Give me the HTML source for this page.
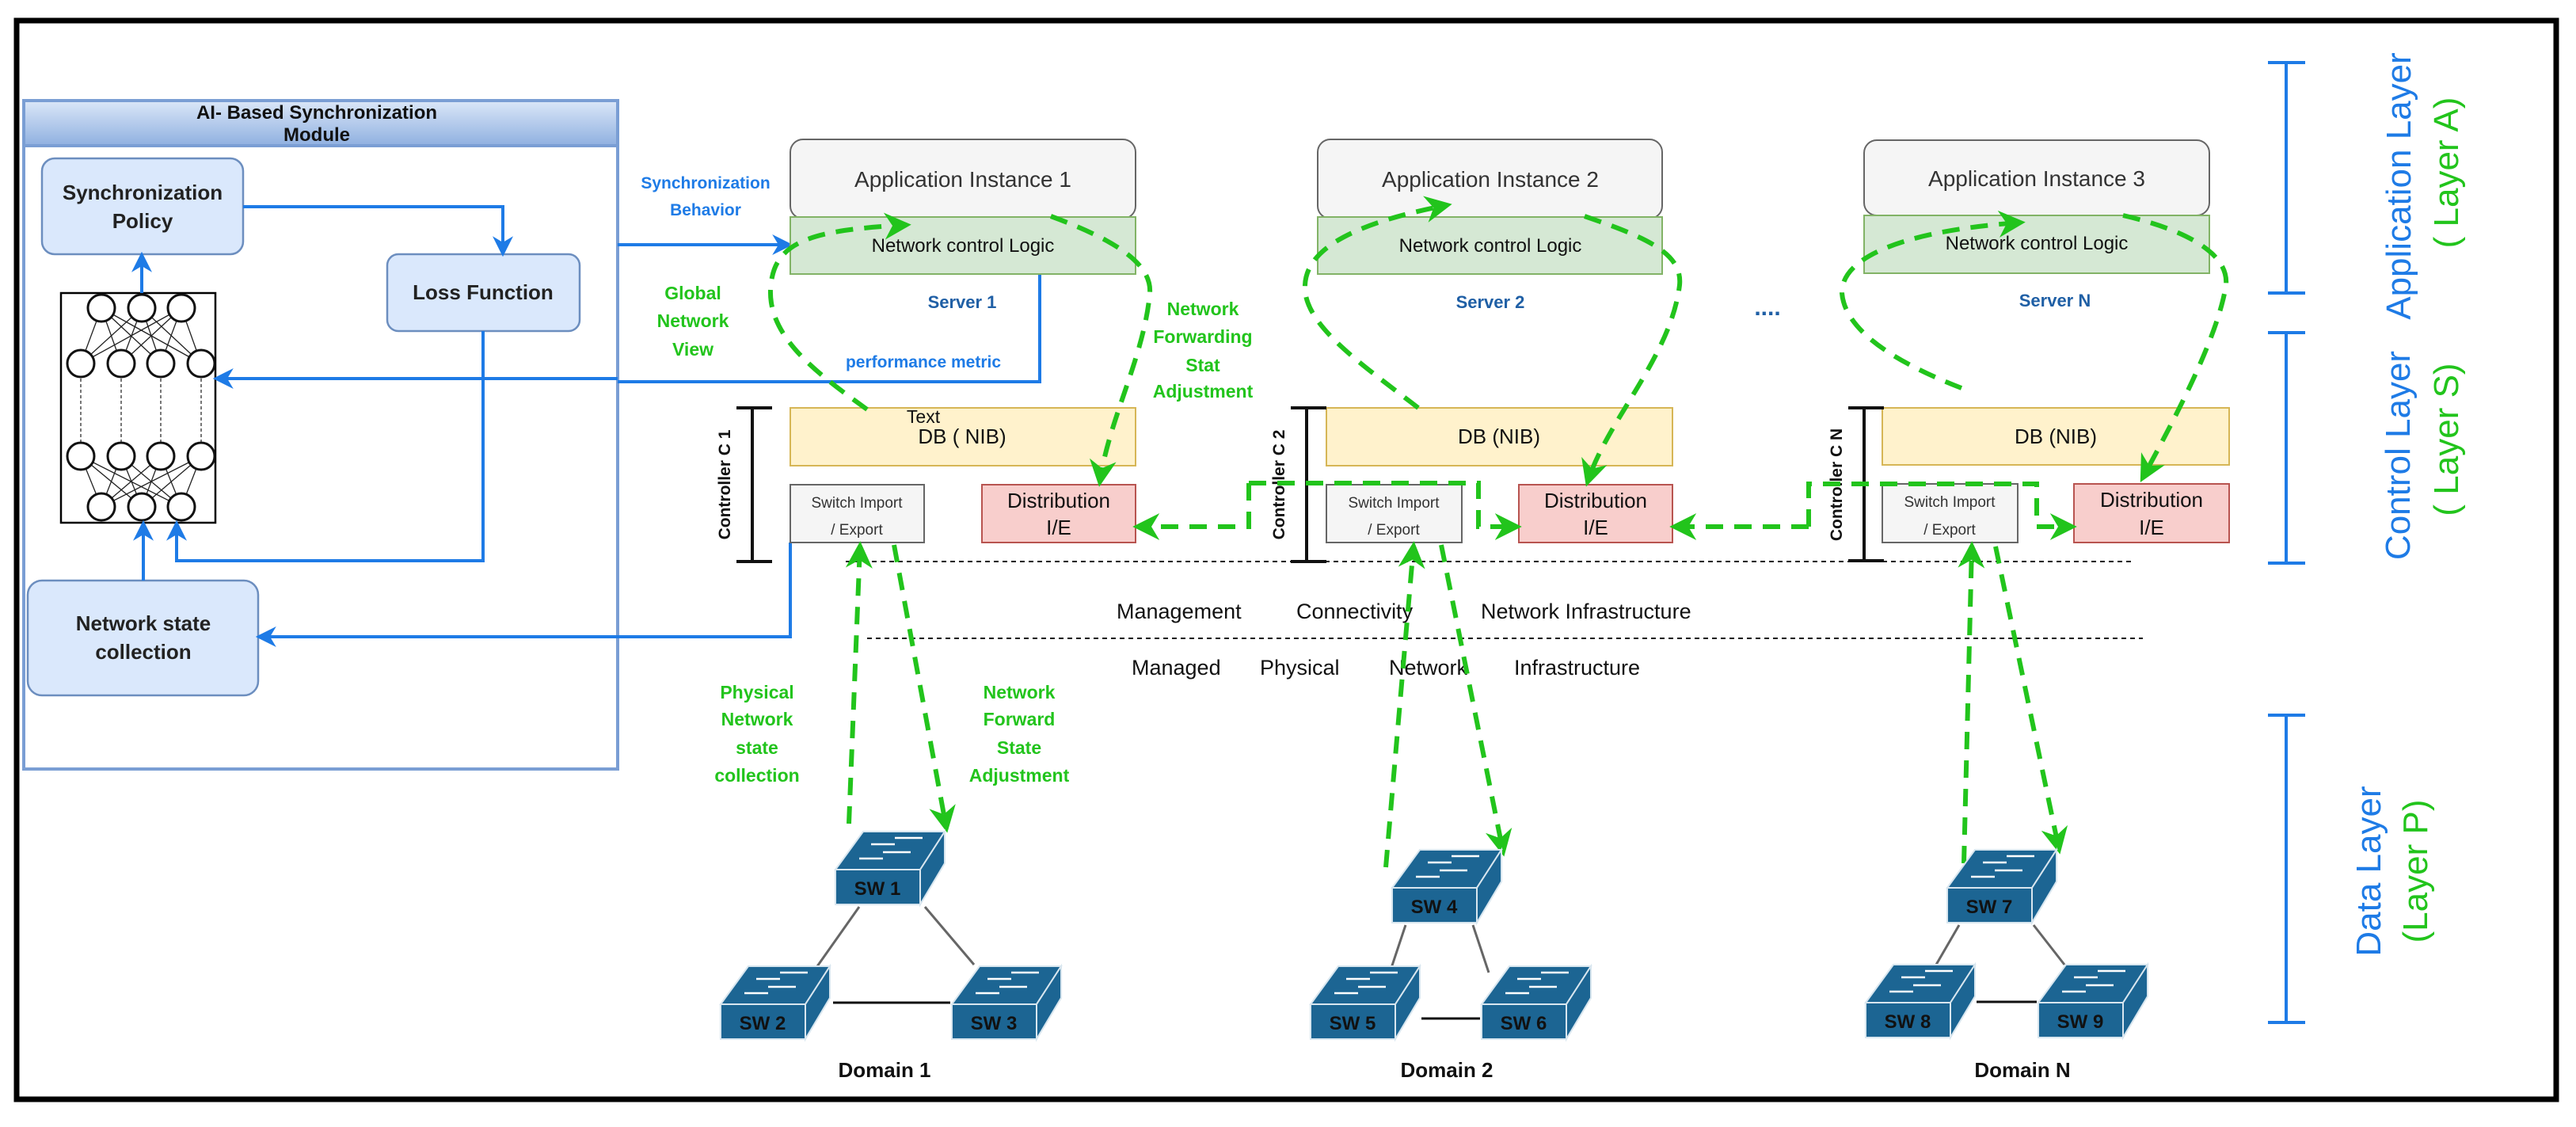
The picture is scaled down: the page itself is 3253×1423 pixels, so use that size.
<!DOCTYPE html>
<html><head><meta charset="utf-8"><style>
html,body{margin:0;padding:0;background:#fff;}
svg{display:block;}
text{font-family:"Liberation Sans",sans-serif;}
</style></head><body>
<svg width="3253" height="1423" viewBox="0 0 3253 1423" xmlns="http://www.w3.org/2000/svg">
<defs>
<marker id="g" viewBox="0 0 10 10" refX="8" refY="5" markerWidth="34" markerHeight="34" markerUnits="userSpaceOnUse" orient="auto"><path d="M0,0 L10,5 L0,10 L3,5 z" fill="#22c41c"/></marker>
<marker id="b" viewBox="0 0 10 10" refX="8" refY="5" markerWidth="26" markerHeight="26" markerUnits="userSpaceOnUse" orient="auto"><path d="M0,0 L10,5 L0,10 L3,5 z" fill="#1e7be6"/></marker>
<g id="sw">
<polygon points="0,0 35,-48 138,-48 107,0" fill="#1c6593" stroke="#d8e6ef" stroke-width="2"/>
<polygon points="107,0 138,-48 138,-8 107,44" fill="#1c6593" stroke="#d8e6ef" stroke-width="2"/>
<rect x="0" y="0" width="107" height="44" fill="#1c6593" stroke="#d8e6ef" stroke-width="2"/>
<g stroke="#fff" stroke-width="2.5" fill="none">
<line x1="75" y1="-40" x2="110" y2="-40"/><line x1="45" y1="-32" x2="75" y2="-32"/>
<line x1="60" y1="-22" x2="95" y2="-22"/><line x1="30" y1="-14" x2="60" y2="-14"/>
</g>
</g>
<linearGradient id="hg" x1="0" y1="0" x2="0" y2="1"><stop offset="0" stop-color="#dbe7f8"/><stop offset="1" stop-color="#8fb0e0"/></linearGradient>
</defs>

<rect x="21" y="26" width="3207" height="1362" fill="none" stroke="#000" stroke-width="7"/>

<rect x="30" y="127" width="750" height="844" fill="#fff" stroke="#7a9ed4" stroke-width="4"/>
<rect x="30" y="127" width="750" height="57" fill="url(#hg)" stroke="#7a9ed4" stroke-width="4"/>
<text x="400" y="150" font-size="24" font-weight="bold" text-anchor="middle" fill="#111">AI- Based  Synchronization</text>
<text x="400" y="178" font-size="24" font-weight="bold" text-anchor="middle" fill="#111">Module</text>

<rect x="53" y="200" width="254" height="121" rx="16" fill="#dae8fc" stroke="#6c8ebf" stroke-width="2.5"/>
<text x="180" y="252" font-size="26" font-weight="bold" text-anchor="middle" fill="#222">Synchronization</text>
<text x="180" y="288" font-size="26" font-weight="bold" text-anchor="middle" fill="#222">Policy</text>
<rect x="489" y="321" width="243" height="97" rx="14" fill="#dae8fc" stroke="#6c8ebf" stroke-width="2.5"/>
<text x="610" y="378" font-size="26" font-weight="bold" text-anchor="middle" fill="#222">Loss Function</text>
<rect x="35" y="733" width="291" height="145" rx="18" fill="#dae8fc" stroke="#6c8ebf" stroke-width="2.5"/>
<text x="181" y="796" font-size="26" font-weight="bold" text-anchor="middle" fill="#222">Network state</text>
<text x="181" y="832" font-size="26" font-weight="bold" text-anchor="middle" fill="#222">collection</text>

<rect x="77" y="370" width="195" height="290" fill="#fff" stroke="#000" stroke-width="2.5"/>
<g stroke="#222" stroke-width="1.3">
<line x1="128" y1="389" x2="102" y2="459"/><line x1="128" y1="389" x2="153" y2="459"/><line x1="128" y1="389" x2="203" y2="459"/><line x1="128" y1="389" x2="254" y2="459"/>
<line x1="179" y1="389" x2="102" y2="459"/><line x1="179" y1="389" x2="153" y2="459"/><line x1="179" y1="389" x2="203" y2="459"/><line x1="179" y1="389" x2="254" y2="459"/>
<line x1="229" y1="389" x2="102" y2="459"/><line x1="229" y1="389" x2="153" y2="459"/><line x1="229" y1="389" x2="203" y2="459"/><line x1="229" y1="389" x2="254" y2="459"/>
<line x1="128" y1="640" x2="102" y2="576"/><line x1="128" y1="640" x2="153" y2="576"/><line x1="128" y1="640" x2="203" y2="576"/><line x1="128" y1="640" x2="254" y2="576"/>
<line x1="179" y1="640" x2="102" y2="576"/><line x1="179" y1="640" x2="153" y2="576"/><line x1="179" y1="640" x2="203" y2="576"/><line x1="179" y1="640" x2="254" y2="576"/>
<line x1="229" y1="640" x2="102" y2="576"/><line x1="229" y1="640" x2="153" y2="576"/><line x1="229" y1="640" x2="203" y2="576"/><line x1="229" y1="640" x2="254" y2="576"/>
</g>
<g stroke="#777" stroke-width="2" stroke-dasharray="4 3">
<line x1="102" y1="478" x2="102" y2="558"/><line x1="153" y1="478" x2="153" y2="558"/><line x1="203" y1="478" x2="203" y2="558"/><line x1="254" y1="478" x2="254" y2="558"/>
</g>
<g fill="#fff" stroke="#111" stroke-width="3">
<ellipse cx="128" cy="389" rx="17" ry="17"/><ellipse cx="179" cy="389" rx="17" ry="17"/><ellipse cx="229" cy="389" rx="17" ry="17"/>
<ellipse cx="102" cy="459" rx="17" ry="17"/><ellipse cx="153" cy="459" rx="17" ry="17"/><ellipse cx="203" cy="459" rx="17" ry="17"/><ellipse cx="254" cy="459" rx="17" ry="17"/>
<ellipse cx="102" cy="576" rx="17" ry="17"/><ellipse cx="153" cy="576" rx="17" ry="17"/><ellipse cx="203" cy="576" rx="17" ry="17"/><ellipse cx="254" cy="576" rx="17" ry="17"/>
<ellipse cx="128" cy="640" rx="17" ry="17"/><ellipse cx="179" cy="640" rx="17" ry="17"/><ellipse cx="229" cy="640" rx="17" ry="17"/>
</g>

<g stroke="#1e7be6" stroke-width="4" fill="none">
<path d="M307,261 H635 V319" marker-end="url(#b)"/>
<path d="M610,418 V708 H223 V662" marker-end="url(#b)"/>
<path d="M181,733 V662" marker-end="url(#b)"/>
<path d="M179,370 V323" marker-end="url(#b)"/>
<path d="M1313,346 V482 H780 M780,478 H274" marker-end="url(#b)"/>
<path d="M780,309 H996" marker-end="url(#b)"/>
<path d="M998,685 V804 H328" marker-end="url(#b)"/>
</g>
<text x="891" y="238" font-size="21" font-weight="bold" text-anchor="middle" fill="#1e7be6">Synchronization</text>
<text x="891" y="272" font-size="21" font-weight="bold" text-anchor="middle" fill="#1e7be6">Behavior</text>
<text x="1166" y="464" font-size="21" font-weight="bold" text-anchor="middle" fill="#1e7be6">performance metric</text>

<g font-size="28" text-anchor="middle">
<rect x="998" y="176" width="436" height="100" rx="16" fill="#f5f5f5" stroke="#666" stroke-width="2"/>
<text x="1216" y="236" fill="#333">Application Instance 1</text>
<rect x="1664" y="176" width="435" height="100" rx="16" fill="#f5f5f5" stroke="#666" stroke-width="2"/>
<text x="1882" y="236" fill="#333">Application Instance 2</text>
<rect x="2354" y="177" width="436" height="95" rx="16" fill="#f5f5f5" stroke="#666" stroke-width="2"/>
<text x="2572" y="235" fill="#333">Application Instance 3</text>
</g>
<g font-size="24" text-anchor="middle">
<rect x="998" y="274" width="436" height="72" fill="#d5e8d4" stroke="#82b366" stroke-width="2"/>
<text x="1216" y="318" fill="#111">Network control Logic</text>
<rect x="1664" y="274" width="435" height="72" fill="#d5e8d4" stroke="#82b366" stroke-width="2"/>
<text x="1882" y="318" fill="#111">Network control Logic</text>
<rect x="2354" y="272" width="436" height="73" fill="#d5e8d4" stroke="#82b366" stroke-width="2"/>
<text x="2572" y="315" fill="#111">Network control Logic</text>
</g>
<g font-size="22" font-weight="bold" text-anchor="middle" fill="#1f5fa5">
<text x="1215" y="389">Server 1</text>
<text x="1882" y="389">Server 2</text>
<text x="2595" y="387">Server N</text>
</g>
<text x="2232" y="398" font-size="30" font-weight="bold" text-anchor="middle" fill="#1f5fa5">....</text>

<g font-size="26" text-anchor="middle" fill="#111">
<rect x="998" y="515" width="436" height="73" fill="#fff2cc" stroke="#d6b656" stroke-width="2"/>
<text x="1166" y="534" font-size="23">Text</text>
<text x="1215" y="560">DB ( NIB)</text>
<rect x="1675" y="515" width="437" height="73" fill="#fff2cc" stroke="#d6b656" stroke-width="2"/>
<text x="1893" y="560">DB (NIB)</text>
<rect x="2377" y="515" width="438" height="72" fill="#fff2cc" stroke="#d6b656" stroke-width="2"/>
<text x="2596" y="560">DB (NIB)</text>
</g>
<g font-size="19" text-anchor="middle" fill="#333">
<rect x="998" y="612" width="169" height="73" fill="#f5f5f5" stroke="#666" stroke-width="2"/>
<text x="1082" y="641">Switch Import</text><text x="1082" y="675">/ Export</text>
<rect x="1675" y="612" width="171" height="73" fill="#f5f5f5" stroke="#666" stroke-width="2"/>
<text x="1760" y="641">Switch Import</text><text x="1760" y="675">/ Export</text>
<rect x="2377" y="611" width="171" height="74" fill="#f5f5f5" stroke="#666" stroke-width="2"/>
<text x="2462" y="640">Switch Import</text><text x="2462" y="675">/ Export</text>
</g>
<g font-size="26" text-anchor="middle" fill="#111">
<rect x="1240" y="612" width="194" height="73" fill="#f8cecc" stroke="#b85450" stroke-width="2"/>
<text x="1337" y="641">Distribution</text><text x="1337" y="675">I/E</text>
<rect x="1918" y="612" width="194" height="73" fill="#f8cecc" stroke="#b85450" stroke-width="2"/>
<text x="2015" y="641">Distribution</text><text x="2015" y="675">I/E</text>
<rect x="2619" y="611" width="196" height="74" fill="#f8cecc" stroke="#b85450" stroke-width="2"/>
<text x="2717" y="640">Distribution</text><text x="2717" y="675">I/E</text>
</g>

<g stroke="#111" stroke-width="4">
<line x1="950" y1="515" x2="950" y2="709"/><line x1="930" y1="515" x2="975" y2="515"/><line x1="930" y1="709" x2="975" y2="709"/>
<line x1="1650" y1="515" x2="1650" y2="709"/><line x1="1630" y1="515" x2="1675" y2="515"/><line x1="1630" y1="709" x2="1675" y2="709"/>
<line x1="2354" y1="515" x2="2354" y2="708"/><line x1="2334" y1="515" x2="2379" y2="515"/><line x1="2334" y1="708" x2="2379" y2="708"/>
</g>
<g font-size="21" font-weight="bold" text-anchor="middle" fill="#111">
<text transform="translate(922,612) rotate(-90)">Controller C 1</text>
<text transform="translate(1622,612) rotate(-90)">Controller C 2</text>
<text transform="translate(2326,612) rotate(-90)">Controller C N</text>
</g>

<g stroke="#111" stroke-width="2" stroke-dasharray="6 5">
<line x1="1068" y1="709" x2="2692" y2="709"/>
<line x1="1095" y1="806" x2="2706" y2="806"/>
</g>
<g font-size="27" fill="#111">
<text x="1410" y="781">Management</text><text x="1637" y="781">Connectivity</text><text x="1870" y="781">Network Infrastructure</text>
<text x="1429" y="852">Managed</text><text x="1591" y="852">Physical</text><text x="1754" y="852">Network</text><text x="1912" y="852">Infrastructure</text>
</g>

<g font-size="23" font-weight="bold" text-anchor="middle" fill="#22c41c">
<text x="875" y="378">Global</text><text x="875" y="413">Network</text><text x="875" y="449">View</text>
<text x="1519" y="398">Network</text><text x="1519" y="433">Forwarding</text><text x="1519" y="469">Stat</text><text x="1519" y="502">Adjustment</text>
<text x="956" y="882">Physical</text><text x="956" y="916">Network</text><text x="956" y="952">state</text><text x="956" y="987">collection</text>
<text x="1287" y="882">Network</text><text x="1287" y="916">Forward</text><text x="1287" y="952">State</text><text x="1287" y="987">Adjustment</text>
</g>

<g stroke="#22c41c" stroke-width="6" fill="none" stroke-dasharray="22 14">
<path d="M1095,517 C1030,470 960,420 975,350 C985,300 1040,290 1144,284" marker-end="url(#g)"/>
<path d="M1327,273 C1400,300 1455,330 1452,370 C1445,450 1400,530 1389,608" marker-end="url(#g)"/>
<path d="M1791,515 C1720,460 1645,410 1648,360 C1650,310 1720,280 1827,259" marker-end="url(#g)"/>
<path d="M2001,273 C2080,300 2125,320 2121,360 C2110,450 2030,530 2005,608" marker-end="url(#g)"/>
<path d="M2477,490 C2400,460 2330,420 2326,370 C2325,320 2420,290 2551,281" marker-end="url(#g)"/>
<path d="M2681,272 C2760,290 2815,320 2811,360 C2800,430 2740,540 2706,603" marker-end="url(#g)"/>
<path d="M1072,1040 L1086,690" marker-end="url(#g)"/>
<path d="M1129,688 L1195,1045" marker-end="url(#g)"/>
<path d="M1750,1095 L1785,690" marker-end="url(#g)"/>
<path d="M1820,688 L1898,1075" marker-end="url(#g)"/>
<path d="M2480,1090 L2490,690" marker-end="url(#g)"/>
<path d="M2520,690 L2600,1072" marker-end="url(#g)"/>
<path d="M1577,610 V665 H1437" marker-end="url(#g)"/>
<path d="M1577,610 H1867 V665 H1915" marker-end="url(#g)"/>
<path d="M2284,665 H2115" marker-end="url(#g)"/>
<path d="M2284,665 V611 H2572 V665 H2616" marker-end="url(#g)"/>
</g>

<g stroke="#666" stroke-width="3">
<line x1="1085" y1="1145" x2="1025" y2="1230"/><line x1="1168" y1="1145" x2="1230" y2="1218"/>
<line x1="1775" y1="1168" x2="1755" y2="1228"/><line x1="1860" y1="1168" x2="1880" y2="1228"/>
<line x1="2474" y1="1168" x2="2445" y2="1218"/><line x1="2568" y1="1168" x2="2607" y2="1218"/>
</g>
<g stroke="#111" stroke-width="3">
<line x1="1052" y1="1266" x2="1200" y2="1266"/><line x1="1795" y1="1286" x2="1869" y2="1286"/><line x1="2496" y1="1265" x2="2572" y2="1265"/>
</g>
<g font-size="24" font-weight="bold" fill="#111" text-anchor="middle">
<use href="#sw" x="1055" y="1098"/><text x="1108" y="1130">SW 1</text>
<use href="#sw" x="910" y="1268"/><text x="963" y="1300">SW 2</text>
<use href="#sw" x="1202" y="1268"/><text x="1255" y="1300">SW 3</text>
<use href="#sw" x="1758" y="1121"/><text x="1811" y="1153">SW 4</text>
<use href="#sw" x="1655" y="1268"/><text x="1708" y="1300">SW 5</text>
<use href="#sw" x="1871" y="1268"/><text x="1924" y="1300">SW 6</text>
<use href="#sw" x="2459" y="1121"/><text x="2512" y="1153">SW 7</text>
<use href="#sw" x="2356" y="1266"/><text x="2409" y="1298">SW 8</text>
<use href="#sw" x="2574" y="1266"/><text x="2627" y="1298">SW 9</text>
</g>
<g font-size="26" font-weight="bold" fill="#111" text-anchor="middle">
<text x="1117" y="1360">Domain 1</text><text x="1827" y="1360">Domain 2</text><text x="2554" y="1360">Domain N</text>
</g>

<g stroke="#1e7be6" stroke-width="4">
<line x1="2887" y1="79" x2="2887" y2="370"/><line x1="2864" y1="79" x2="2911" y2="79"/><line x1="2864" y1="370" x2="2911" y2="370"/>
<line x1="2887" y1="420" x2="2887" y2="711"/><line x1="2864" y1="420" x2="2911" y2="420"/><line x1="2864" y1="711" x2="2911" y2="711"/>
<line x1="2887" y1="903" x2="2887" y2="1291"/><line x1="2864" y1="903" x2="2911" y2="903"/><line x1="2864" y1="1291" x2="2911" y2="1291"/>
</g>
<g font-size="44" text-anchor="middle">
<text transform="translate(3044,235) rotate(-90)" fill="#1e7be6">Application Layer</text>
<text transform="translate(3104,218) rotate(-90)" fill="#22c41c">( Layer A)</text>
<text transform="translate(3043,575) rotate(-90)" fill="#1e7be6">Control Layer</text>
<text transform="translate(3104,555) rotate(-90)" fill="#22c41c">( Layer S)</text>
<text transform="translate(3006,1100) rotate(-90)" fill="#1e7be6">Data Layer</text>
<text transform="translate(3065,1100) rotate(-90)" fill="#22c41c">(Layer P)</text>
</g>
</svg>
</body></html>
